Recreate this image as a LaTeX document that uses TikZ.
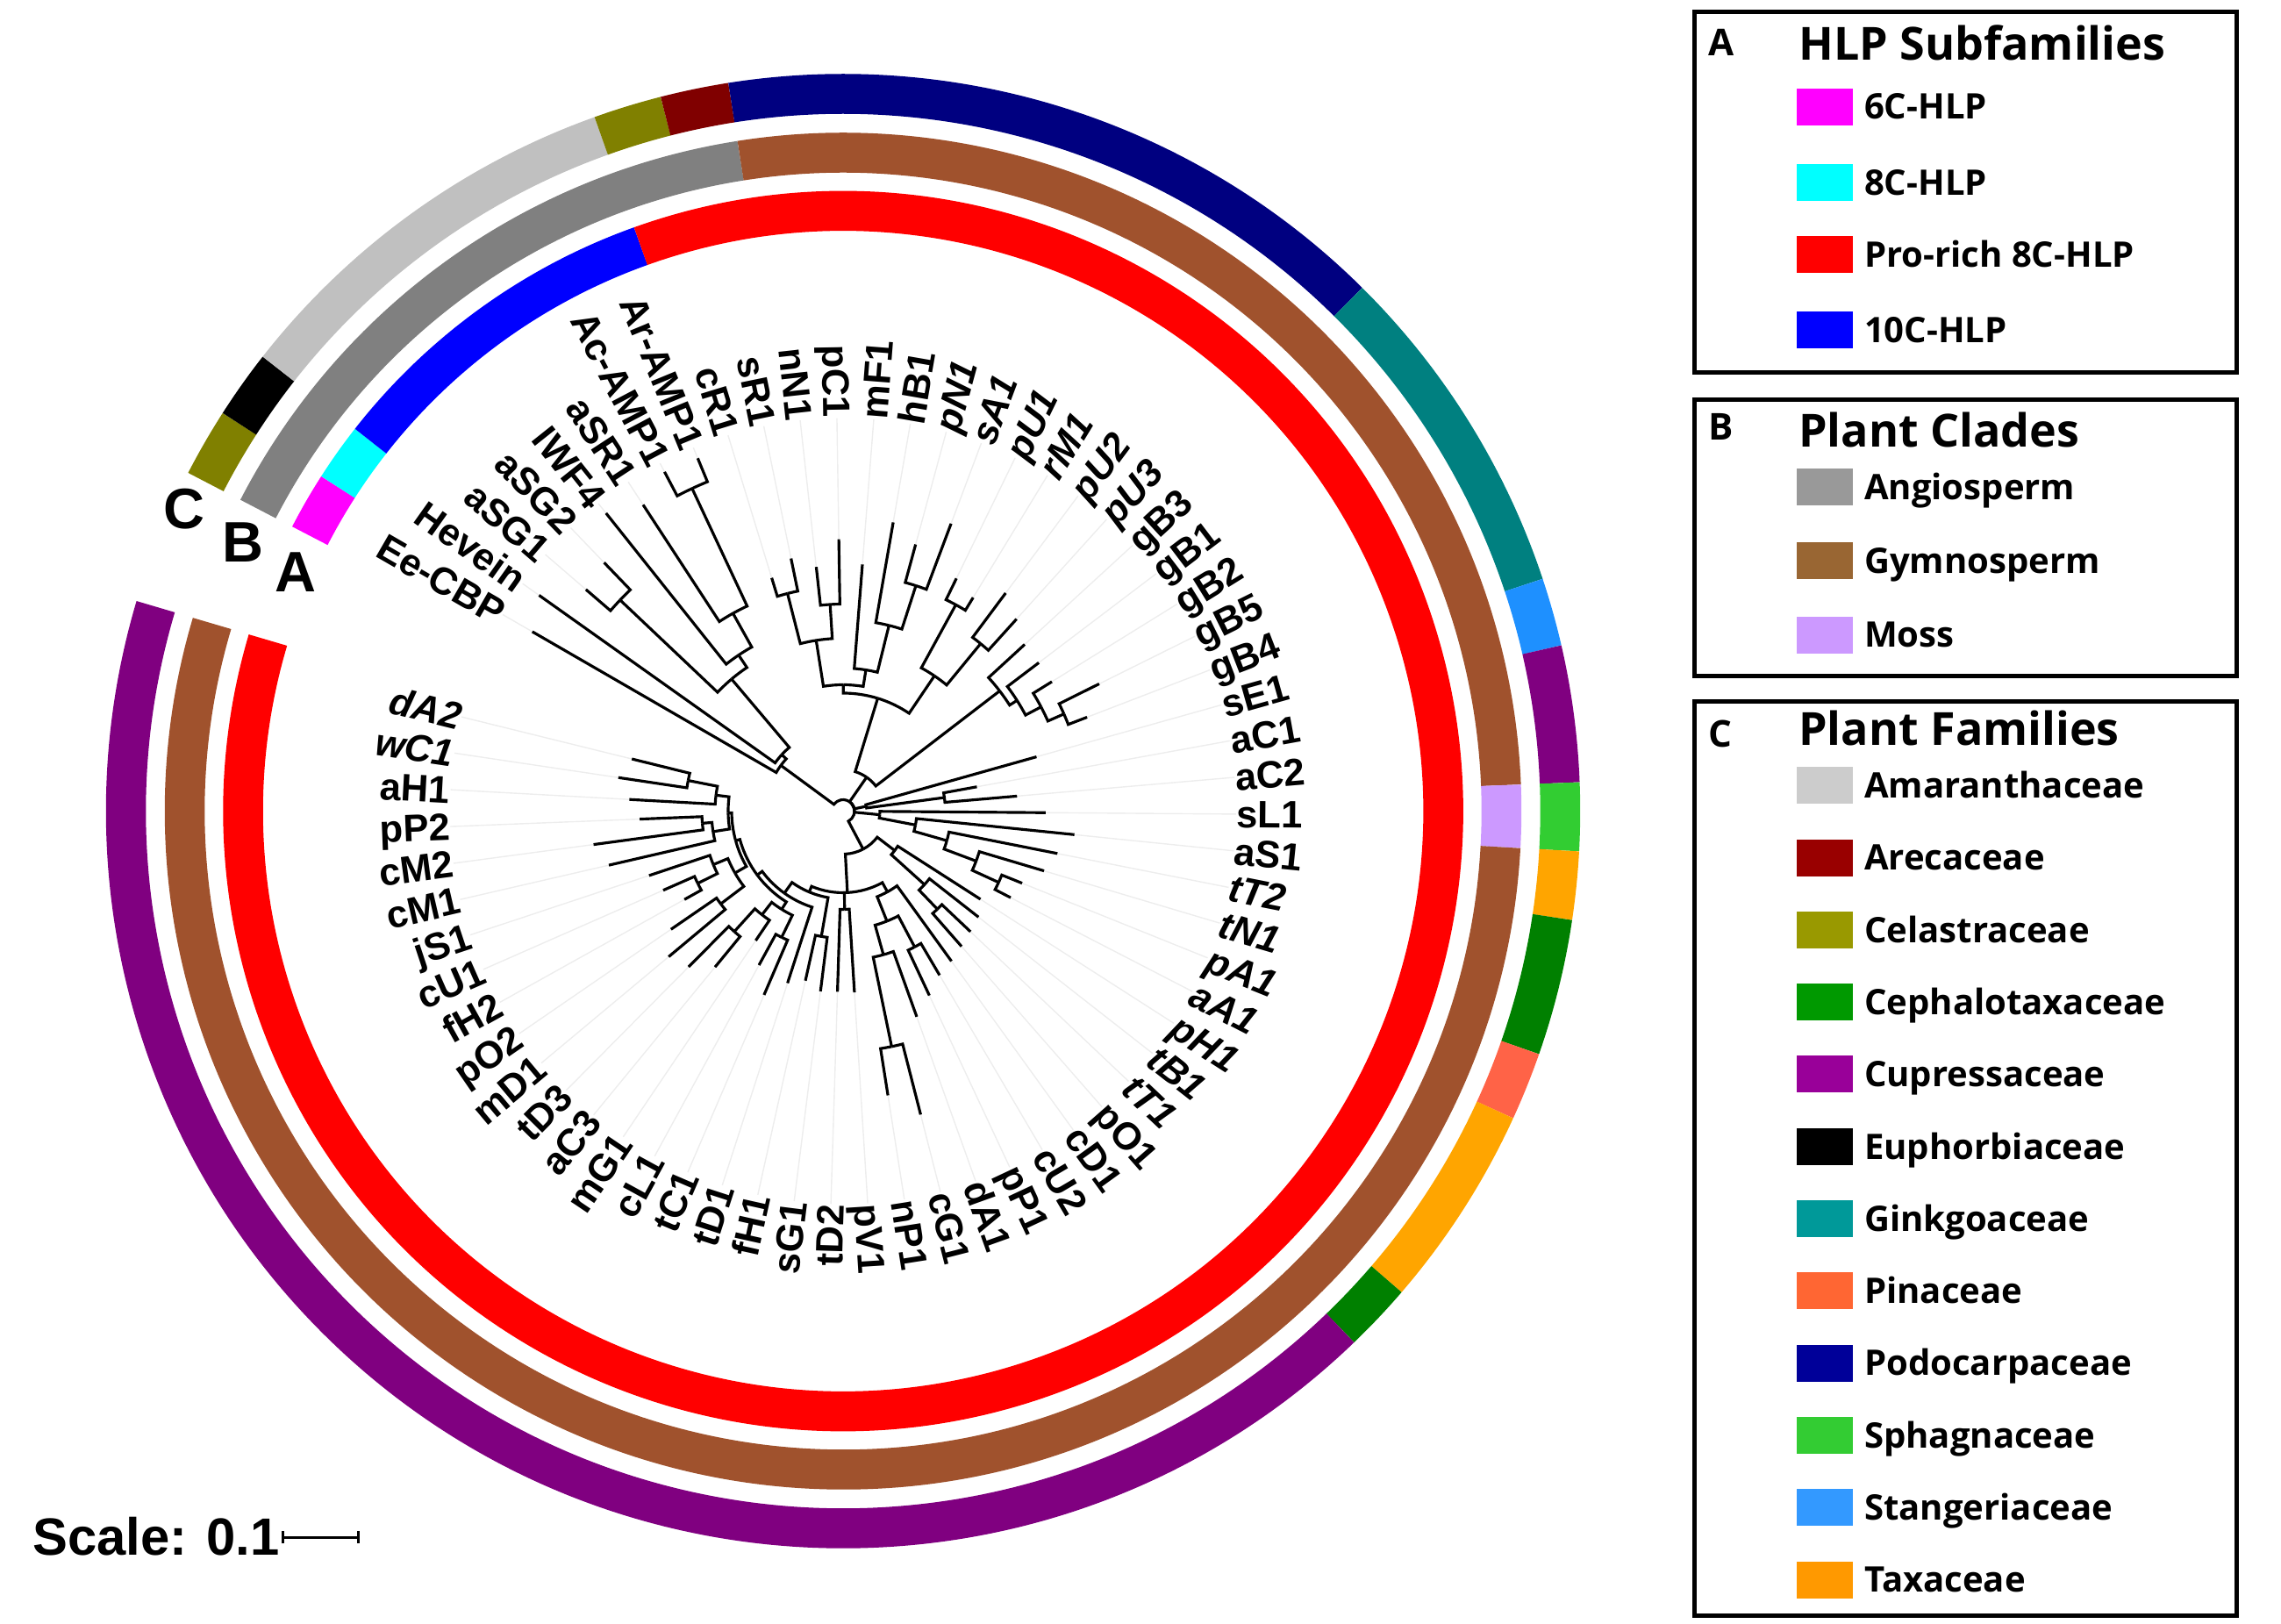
\documentclass[tikz,border=0pt]{standalone}
\usepackage{fontspec}
\setmainfont{Liberation Sans}
\newfontfamily\legendfont{Open Sans}
\usetikzlibrary{positioning,arrows.meta}

\definecolor{c6C}{HTML}{FF00FF}
\definecolor{c8C}{HTML}{00FFFF}
\definecolor{cPro}{HTML}{FF0000}
\definecolor{c10C}{HTML}{0000FF}
\definecolor{rAngio}{HTML}{808080}
\definecolor{rGymno}{HTML}{A0522D}
\definecolor{rMoss}{HTML}{CC99FF}
\definecolor{rAmar}{HTML}{C0C0C0}
\definecolor{rAreca}{HTML}{800000}
\definecolor{rCelas}{HTML}{808000}
\definecolor{rCepha}{HTML}{008000}
\definecolor{rCupre}{HTML}{800080}
\definecolor{rGinkg}{HTML}{008080}
\definecolor{rPinac}{HTML}{FF6347}
\definecolor{rPodoc}{HTML}{000080}
\definecolor{rSphag}{HTML}{32CD32}
\definecolor{rStang}{HTML}{1E90FF}
\definecolor{rTaxac}{HTML}{FFA500}
\definecolor{lAngio}{HTML}{999999}
\definecolor{lGymno}{HTML}{996633}
\definecolor{lAmar}{HTML}{CCCCCC}
\definecolor{lAreca}{HTML}{990000}
\definecolor{lCelas}{HTML}{999900}
\definecolor{lCepha}{HTML}{009900}
\definecolor{lCupre}{HTML}{990099}
\definecolor{lGinkg}{HTML}{009999}
\definecolor{lPinac}{HTML}{FF6633}
\definecolor{lPodoc}{HTML}{000099}
\definecolor{lSphag}{HTML}{33CC33}
\definecolor{lStang}{HTML}{3399FF}
\definecolor{lTaxac}{HTML}{FF9900}

\tikzset{
  branch/.style={line width=0.9pt},
  guide/.style={draw=black!7, line width=0.4pt},
  lbl/.style={font=\fontsize{12.4}{14}\selectfont\bfseries, inner sep=0pt, text height=3.1mm, text depth=0pt},
  ring/.style={line width=0.455cm},
  frame/.style={draw, line width=1.4pt, inner sep=0pt, anchor=north west},
  swatch/.style={minimum width=0.64cm, minimum height=0.42cm, inner sep=0pt, anchor=west},
  lgtext/.style={font=\legendfont\fontsize{11.4}{13}\selectfont\bfseries, inner sep=0pt, text height=2.85mm, text depth=0pt},
  lgtitle/.style={font=\legendfont\fontsize{14.8}{17}\selectfont\bfseries, inner sep=0pt, anchor=base west},
  lgletter/.style={font=\legendfont\fontsize{12}{14}\selectfont\bfseries, inner sep=0pt, anchor=base west},
  ringletter/.style={font=\fontsize{18.5}{20}\selectfont\bfseries, inner sep=0pt},
  scaletext/.style={font=\fontsize{17}{19}\selectfont\bfseries, inner sep=0pt, anchor=west},
}

\newcommand{\branch}[4]{\draw[branch] (#1:#2) arc[start angle=#1, end angle=#3, radius=#2] -- (#3:#4);}
\newcommand{\ringseg}[4]{\draw[ring, #1] (#3:#2) arc[start angle=#3, end angle=#4, radius=#2];}
\newcommand{\leafR}[4]{\coordinate (t#1) at (#2:#3);
  \node[lbl, anchor=west, rotate=#2] (l#1) at (#2:4.48) {#4};
  \draw[guide] (t#1) -- (l#1.west);}
\newcommand{\leafL}[4]{\coordinate (t#1) at (#2:#3);
  \node[lbl, anchor=east, rotate=#2+180] (l#1) at (#2:4.48) {#4};
  \draw[guide] (t#1) -- (l#1.east);}

\begin{document}
\begin{tikzpicture}
\useasboundingbox (-9.61,-9.265) rectangle (16.39,9.245);

\ringseg{c6C}{6.84}{152.69}{147.32}
\ringseg{c8C}{6.84}{147.32}{141.94}
\ringseg{c10C}{6.84}{141.94}{109.71}
\ringseg{cPro}{6.84}{109.71}{-196.56}
\ringseg{rAngio}{7.505}{152.69}{98.96}
\ringseg{rGymno}{7.505}{98.96}{2.25}
\ringseg{rMoss}{7.505}{2.25}{-3.13}
\ringseg{rGymno}{7.505}{-3.13}{-196.56}
\ringseg{rCelas}{8.175}{152.69}{147.32}
\ringseg{black}{8.175}{147.32}{141.94}
\ringseg{rAmar}{8.175}{141.94}{109.71}
\ringseg{rCelas}{8.175}{109.71}{104.33}
\ringseg{rAreca}{8.175}{104.33}{98.96}
\ringseg{rPodoc}{8.175}{98.96}{45.23}
\ringseg{rGinkg}{8.175}{45.23}{18.37}
\ringseg{rStang}{8.175}{18.37}{13.00}
\ringseg{rCupre}{8.175}{13.00}{2.25}
\ringseg{rSphag}{8.175}{2.25}{-3.13}
\ringseg{rTaxac}{8.175}{-3.13}{-8.50}
\ringseg{rCepha}{8.175}{-8.50}{-19.25}
\ringseg{rPinac}{8.175}{-19.25}{-24.62}
\ringseg{rTaxac}{8.175}{-24.62}{-40.74}
\ringseg{rCepha}{8.175}{-40.74}{-46.11}
\ringseg{rCupre}{8.175}{-46.11}{-196.56}

\node[ringletter] (rC) at (-7.51,3.445) {C};
\node[ringletter] (rB) at (-6.843,3.062) {B};
\node[ringletter] (rA) at (-6.243,2.728) {A};

\leafL{1}{150}{4.09}{Ee-CBP}
\leafL{2}{144.63}{4.25}{Hevein}
\leafL{3}{139.25}{3.87}{aSG1}
\leafL{4}{133.88}{3.93}{aSG2}
\leafL{5}{128.51}{4.34}{IWF4}
\leafL{6}{123.14}{4.17}{aSR1}
\leafL{7}{117.76}{4.37}{Ac-AMP1}
\leafL{8}{112.39}{4.35}{Ar-AMP1}
\leafL{9}{107.02}{2.78}{cR1}
\leafL{10}{101.64}{2.94}{sR1}
\leafL{11}{96.27}{2.80}{nN1}
\leafL{12}{90.90}{3.10}{pC1}
\leafR{13}{85.52}{2.82}{mF1}
\leafR{14}{80.15}{3.34}{hB1}
\leafR{15}{74.78}{3.15}{\itshape pN1}
\leafR{16}{69.41}{3.50}{\itshape sA1}
\leafR{17}{64.03}{2.95}{\itshape pU1}
\leafR{18}{58.66}{2.85}{\itshape rM1}
\leafR{19}{53.29}{3.10}{\itshape pU2}
\leafR{20}{47.91}{2.95}{\itshape pU3}
\leafR{21}{42.54}{2.81}{gB3}
\leafR{22}{37.17}{2.80}{gB1}
\leafR{23}{31.79}{2.80}{gB2}
\leafR{24}{26.42}{3.26}{gB5}
\leafR{25}{21.05}{2.98}{gB4}
\leafR{26}{15.68}{2.29}{sE1}
\leafR{27}{10.30}{1.55}{aC1}
\leafR{28}{4.93}{1.99}{aC2}
\leafR{29}{-0.44}{2.31}{sL1}
\leafR{30}{-5.81}{2.65}{aS1}
\leafR{31}{-11.19}{2.49}{\itshape tT2}
\leafR{32}{-16.56}{2.39}{\itshape tN1}
\leafR{33}{-21.93}{2.20}{\itshape pA1}
\leafR{34}{-27.31}{2.15}{\itshape aA1}
\leafR{35}{-32.68}{1.86}{\itshape pH1}
\leafR{36}{-38.05}{1.96}{\itshape tB1}
\leafR{37}{-43.42}{2.00}{\itshape tT1}
\leafR{38}{-48.80}{2.05}{pO1}
\leafR{39}{-54.17}{2.11}{cD1}
\leafR{40}{-59.54}{2.17}{cU2}
\leafR{41}{-64.92}{2.32}{pP1}
\leafR{42}{-70.29}{2.49}{dA1}
\leafR{43}{-75.66}{3.57}{cG1}
\leafR{44}{-81.03}{3.28}{nP1}
\leafR{45}{-86.41}{2.07}{pV1}
\leafL{46}{-91.78}{2.06}{tD2}
\leafL{47}{-97.15}{2.07}{sG1}
\leafL{48}{-102.53}{1.98}{fH1}
\leafL{49}{-107.90}{2.06}{tD1}
\leafL{50}{-113.27}{2.28}{tC1}
\leafL{51}{-118.64}{2.00}{cL1}
\leafL{52}{-124.02}{1.78}{mG1}
\leafL{53}{-129.39}{2.30}{aC3}
\leafL{54}{-134.76}{2.50}{tD3}
\leafL{55}{-140.14}{2.59}{mD1}
\leafL{56}{-145.51}{2.38}{pO2}
\leafL{57}{-150.88}{2.07}{fH2}
\leafL{58}{-156.25}{2.24}{cU1}
\leafL{59}{-161.63}{2.33}{jS1}
\leafL{60}{-167.00}{2.74}{cM1}
\leafL{61}{-172.37}{2.87}{cM2}
\leafL{62}{-177.75}{2.32}{pP2}
\leafL{63}{-183.12}{2.44}{aH1}
\leafL{64}{-188.49}{2.59}{\itshape wC1}
\leafL{65}{-193.87}{2.48}{\itshape dA2}

\branch{40.76}{0.13}{143.7}{0.88}
\branch{40.76}{0.13}{55.22}{0.47}
\branch{40.76}{0.13}{11.65}{0.27}
\branch{40.76}{0.13}{-5.65}{0.42}
\branch{40.76}{0.13}{-62.18}{0.49}
\branch{143.7}{0.88}{150}{4.09}
\branch{143.7}{0.88}{137.41}{0.95}
\branch{137.41}{0.95}{144.63}{4.25}
\branch{137.41}{0.95}{130.19}{1.97}
\branch{130.19}{1.97}{136.57}{3.50}
\branch{130.19}{1.97}{123.81}{2.14}
\branch{136.57}{3.50}{139.25}{3.87}
\branch{136.57}{3.50}{133.88}{3.93}
\branch{123.81}{2.14}{128.51}{4.34}
\branch{123.81}{2.14}{119.11}{2.58}
\branch{119.11}{2.58}{123.14}{4.17}
\branch{119.11}{2.58}{115.08}{4.06}
\branch{115.08}{4.06}{117.76}{4.37}
\branch{115.08}{4.06}{112.39}{4.35}
\branch{55.22}{0.47}{72.93}{1.345}
\branch{55.22}{0.47}{37.5}{2.25}
\branch{72.93}{1.345}{89.89}{1.44}
\branch{72.93}{1.345}{55.97}{1.86}
\branch{89.89}{1.44}{98.96}{1.97}
\branch{89.89}{1.44}{80.82}{1.63}
\branch{98.96}{1.97}{104.33}{2.56}
\branch{98.96}{1.97}{93.59}{2.36}
\branch{104.33}{2.56}{107.02}{2.78}
\branch{104.33}{2.56}{101.64}{2.94}
\branch{93.59}{2.36}{96.27}{2.80}
\branch{93.59}{2.36}{90.90}{3.10}
\branch{80.82}{1.63}{85.52}{2.82}
\branch{80.82}{1.63}{76.12}{2.18}
\branch{76.12}{2.18}{80.15}{3.34}
\branch{76.12}{2.18}{72.10}{2.70}
\branch{72.10}{2.70}{74.78}{3.15}
\branch{72.10}{2.70}{69.41}{3.50}
\branch{55.97}{1.86}{61.35}{2.68}
\branch{55.97}{1.86}{50.60}{2.47}
\branch{61.35}{2.68}{64.03}{2.95}
\branch{61.35}{2.68}{58.66}{2.85}
\branch{50.60}{2.47}{53.29}{3.10}
\branch{50.60}{2.47}{47.91}{2.95}
\branch{37.5}{2.25}{42.54}{2.81}
\branch{37.5}{2.25}{32.47}{2.35}
\branch{32.47}{2.35}{37.17}{2.80}
\branch{32.47}{2.35}{27.76}{2.55}
\branch{27.76}{2.55}{31.79}{2.80}
\branch{27.76}{2.55}{23.74}{2.75}
\branch{23.74}{2.75}{26.42}{3.26}
\branch{23.74}{2.75}{21.05}{2.98}
\branch{11.65}{0.27}{15.68}{2.29}
\branch{11.65}{0.27}{7.62}{1.165}
\branch{7.62}{1.165}{10.30}{1.55}
\branch{7.62}{1.165}{4.93}{1.99}
\branch{-5.65}{0.42}{-0.44}{2.31}
\branch{-5.65}{0.42}{-10.85}{0.84}
\branch{-10.85}{0.84}{-5.81}{2.65}
\branch{-10.85}{0.84}{-15.89}{1.23}
\branch{-15.89}{1.23}{-11.19}{2.49}
\branch{-15.89}{1.23}{-20.59}{1.62}
\branch{-20.59}{1.62}{-16.56}{2.39}
\branch{-20.59}{1.62}{-24.62}{1.95}
\branch{-24.62}{1.95}{-21.93}{2.20}
\branch{-24.62}{1.95}{-27.31}{2.15}
\branch{-62.18}{0.49}{-37.38}{0.74}
\branch{-62.18}{0.49}{-86.97}{0.93}
\branch{-37.38}{0.74}{-32.68}{1.86}
\branch{-37.38}{0.74}{-42.08}{1.25}
\branch{-42.08}{1.25}{-38.05}{1.96}
\branch{-42.08}{1.25}{-46.11}{1.55}
\branch{-46.11}{1.55}{-43.42}{2.00}
\branch{-46.11}{1.55}{-48.80}{2.05}
\branch{-86.97}{0.93}{-112.73}{1.00}
\branch{-86.97}{0.93}{-89.10}{1.12}
\branch{-86.97}{0.93}{-61.22}{1.05}
\branch{-89.10}{1.12}{-86.41}{2.07}
\branch{-89.10}{1.12}{-91.78}{2.06}
\branch{-61.22}{1.05}{-54.17}{2.11}
\branch{-61.22}{1.05}{-68.28}{1.35}
\branch{-68.28}{1.35}{-62.23}{1.75}
\branch{-68.28}{1.35}{-74.32}{1.70}
\branch{-62.23}{1.75}{-59.54}{2.17}
\branch{-62.23}{1.75}{-64.92}{2.32}
\branch{-74.32}{1.70}{-70.29}{2.49}
\branch{-74.32}{1.70}{-78.35}{2.74}
\branch{-78.35}{2.74}{-75.66}{3.57}
\branch{-78.35}{2.74}{-81.03}{3.28}
\branch{-112.73}{1.00}{-99.84}{1.45}
\branch{-112.73}{1.00}{-125.61}{1.15}
\branch{-99.84}{1.45}{-97.15}{2.07}
\branch{-99.84}{1.45}{-102.53}{1.98}
\branch{-125.61}{1.15}{-107.90}{2.06}
\branch{-125.61}{1.15}{-143.33}{1.22}
\branch{-143.33}{1.22}{-122.00}{1.32}
\branch{-143.33}{1.22}{-164.65}{1.27}
\branch{-122.00}{1.32}{-115.96}{1.60}
\branch{-122.00}{1.32}{-128.05}{1.50}
\branch{-115.96}{1.60}{-113.27}{2.28}
\branch{-115.96}{1.60}{-118.64}{2.00}
\branch{-128.05}{1.50}{-124.02}{1.78}
\branch{-128.05}{1.50}{-132.08}{1.85}
\branch{-132.08}{1.85}{-129.39}{2.30}
\branch{-132.08}{1.85}{-134.76}{2.50}
\branch{-164.65}{1.27}{-150.21}{1.42}
\branch{-164.65}{1.27}{-179.09}{1.31}
\branch{-150.21}{1.42}{-142.83}{1.75}
\branch{-150.21}{1.42}{-157.60}{1.60}
\branch{-142.83}{1.75}{-140.14}{2.59}
\branch{-142.83}{1.75}{-145.51}{2.38}
\branch{-157.60}{1.60}{-153.57}{1.85}
\branch{-157.60}{1.60}{-161.63}{2.33}
\branch{-153.57}{1.85}{-150.88}{2.07}
\branch{-153.57}{1.85}{-156.25}{2.24}
\branch{-179.09}{1.31}{-187.15}{1.46}
\branch{-179.09}{1.31}{-171.03}{1.50}
\branch{-187.15}{1.46}{-191.18}{1.80}
\branch{-187.15}{1.46}{-183.12}{2.44}
\branch{-191.18}{1.80}{-193.87}{2.48}
\branch{-191.18}{1.80}{-188.49}{2.59}
\branch{-171.03}{1.50}{-175.06}{1.61}
\branch{-171.03}{1.50}{-167.00}{2.74}
\branch{-175.06}{1.61}{-177.75}{2.32}
\branch{-175.06}{1.61}{-172.37}{2.87}

\node[scaletext] (scl) at (-9.245,-8.27) {Scale: 0.1};
\coordinate (sb1) at (-6.40,-8.28);
\coordinate (sb2) at (-5.51,-8.28);
\draw[line width=0.8pt, {Bar[width=1.4mm]}-{Bar[width=1.4mm]}] (sb1) -- (sb2);

\node[frame, minimum width=6.18cm, minimum height=4.11cm] (boxA) at (9.68,9.133) {};
\node[frame, minimum width=6.18cm, minimum height=3.15cm] (boxB) at (9.68,4.715) {};
\node[frame, minimum width=6.18cm, minimum height=10.417cm] (boxC) at (9.68,1.275) {};

\node[lgletter] (ltA) at (9.86,8.605) {A};
\node[lgtitle] (tiA) at (10.886,8.555) {HLP Subfamilies};
\node[swatch, fill=c6C] (swA1) at (10.86,8.028) {};
\node[swatch, fill=c8C] (swA2) at (10.86,7.162) {};
\node[swatch, fill=cPro] (swA3) at (10.86,6.345) {};
\node[swatch, fill=c10C] (swA4) at (10.86,5.487) {};
\node[lgtext, right=0.12cm of swA1] {6C-HLP};
\node[lgtext, right=0.12cm of swA2] {8C-HLP};
\node[lgtext, right=0.12cm of swA3] {Pro-rich 8C-HLP};
\node[lgtext, right=0.12cm of swA4] {10C-HLP};

\node[lgletter] (ltB) at (9.86,4.225) {B};
\node[lgtitle] (tiB) at (10.886,4.145) {Plant Clades};
\node[swatch, fill=lAngio] (swB1) at (10.86,3.695) {};
\node[swatch, fill=lGymno] (swB2) at (10.86,2.85) {};
\node[swatch, fill=rMoss] (swB3) at (10.86,2.008) {};
\node[lgtext, right=0.12cm of swB1] {Angiosperm};
\node[lgtext, right=0.12cm of swB2] {Gymnosperm};
\node[lgtext, right=0.12cm of swB3] {Moss};

\node[lgletter] (ltC) at (9.86,0.725) {C};
\node[lgtitle] (tiC) at (10.886,0.748) {Plant Families};
\node[swatch, fill=lAmar] (swC1) at (10.86,0.292) {};
\node[swatch, fill=lAreca] (swC2) at (10.86,-0.531) {};
\node[swatch, fill=lCelas] (swC3) at (10.86,-1.354) {};
\node[swatch, fill=lCepha] (swC4) at (10.86,-2.177) {};
\node[swatch, fill=lCupre] (swC5) at (10.86,-3.0) {};
\node[swatch, fill=black] (swC6) at (10.86,-3.823) {};
\node[swatch, fill=lGinkg] (swC7) at (10.86,-4.646) {};
\node[swatch, fill=lPinac] (swC8) at (10.86,-5.469) {};
\node[swatch, fill=lPodoc] (swC9) at (10.86,-6.292) {};
\node[swatch, fill=lSphag] (swC10) at (10.86,-7.115) {};
\node[swatch, fill=lStang] (swC11) at (10.86,-7.938) {};
\node[swatch, fill=lTaxac] (swC12) at (10.86,-8.761) {};
\node[lgtext, right=0.12cm of swC1] {Amaranthaceae};
\node[lgtext, right=0.12cm of swC2] {Arecaceae};
\node[lgtext, right=0.12cm of swC3] {Celastraceae};
\node[lgtext, right=0.12cm of swC4] {Cephalotaxaceae};
\node[lgtext, right=0.12cm of swC5] {Cupressaceae};
\node[lgtext, right=0.12cm of swC6] {Euphorbiaceae};
\node[lgtext, right=0.12cm of swC7] {Ginkgoaceae};
\node[lgtext, right=0.12cm of swC8] {Pinaceae};
\node[lgtext, right=0.12cm of swC9] {Podocarpaceae};
\node[lgtext, right=0.12cm of swC10] {Sphagnaceae};
\node[lgtext, right=0.12cm of swC11] {Stangeriaceae};
\node[lgtext, right=0.12cm of swC12] {Taxaceae};
\end{tikzpicture}
\end{document}
